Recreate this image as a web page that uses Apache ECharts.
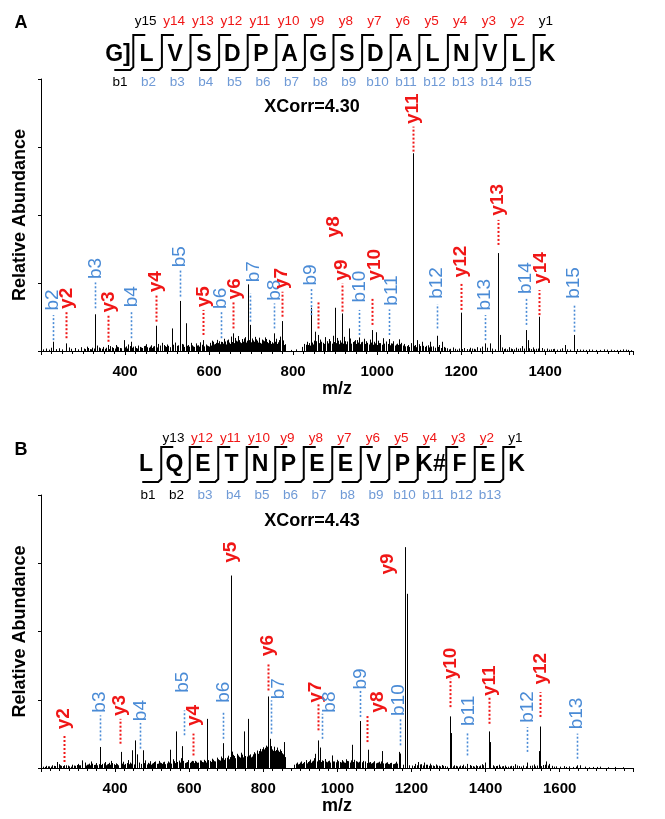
<!DOCTYPE html>
<html><head><meta charset="utf-8">
<script src="https://cdn.jsdelivr.net/npm/echarts@6/dist/echarts.min.js"></script>
<style>html,body{margin:0;padding:0;background:#fff}#c{width:665px;height:819px}</style>
</head><body><div id="c"></div>
<script>
// ================= Panel A data =================
const seqA = ['G]','L','V','S','D','P','A','G','S','D','A','L','N','V','L','K'];
const yHitA = [0,1,1,1,1,1,1,1,1,1,1,1,1,1,0];   // y15 ... y1 (left to right)
const bHitA = [0,1,1,1,1,1,1,1,1,1,1,1,1,1,1];   // b1 ... b15
const xcorrA = 'XCorr=4.30';
const xTicksA = [400,600,800,1000,1200,1400];
// main peaks [m/z, abundance]
const peaksA = [[229.1,3.4],[260.2,2.8],[328.2,13.5],[359.3,2.2],[396.4,4.0],[415.2,3.4],[473.3,9.3],[511.5,8.3],[530.2,18.4],[544.8,10.2],[586.4,4.0],[627.3,3.4],[652.6,5.3],[657.4,6.5],[693.7,24.5],[698.3,9.6],[755.3,6.5],[772.5,11.0],[842.4,15.9],[852.3,7.1],[859.5,5.9],[899.9,15.9],[916.5,13.8],[933.9,8.3],[947.5,4.0],[957.4,5.0],[987.5,7.7],[996.7,6.9],[1014.8,4.7],[1028.5,4.4],[1052.8,4.3],[1084.6,72.7],[1095.6,4.0],[1106,3.4],[1125.8,3.4],[1141.5,5.6],[1153.6,3.4],[1199.6,14.1],[1255.6,2.8],[1268.4,2.8],[1286.7,36.0],[1292.2,5.9],[1354.7,7.7],[1358,4.0],[1385.7,12.6],[1447.2,2.2],[1467.8,5.9]];
// low-level background peaks [m/z, abundance]
const noiseA = [[205,0.6],[212,0.9],[218,0.5],[224,1.2],[236,0.7],[243,1.0],[250,0.6],[266,1.3],[272,0.8],[281,1.1],[288,0.6],[295,1.4],
[302,0.9],[309,1.6],[316,0.7],[322,1.2],[334,2.0],[340,1.0],[347,1.5],[352,0.8],[365,1.8],[371,1.1],[378,2.2],[384,1.4],[390,1.0],[402,1.7],[408,2.4],[420,1.6],[426,1.1],[432,2.0],[438,1.3],[444,1.8],[450,2.5],[456,1.2],[462,2.1],[467,1.6],[478,2.6],
[305,0.7],[312,1.1],[319,0.6],[326,0.9],[337,1.3],[344,0.8],[355,1.2],[362,0.7],[368,1.4],[375,0.9],[381,1.6],[387,1.1],[399,1.3],[405,0.9],[411,1.8],[417,1.2],[423,1.7],[429,0.9],[435,1.5],[441,1.1],[447,1.9],[453,1.4],[459,1.6],[464,1.1],[470,1.8],[475,1.3],
[484,2.0],[489,3.0],[495,1.8],[500,2.4],[518,3.1],[523,1.9],[535,2.6],[550,2.2],[556,3.0],[562,1.7],[568,2.8],[574,2.1],[579,3.2],[592,2.4],[597,1.8],
[487,1.6],[492,2.2],[498,1.5],[503,1.9],[508,1.4],[514,2.3],[520,1.7],[527,2.1],[532,1.6],[538,2.4],[541,1.5],[547,1.9],[553,1.6],[559,2.1],[565,1.5],[571,2.0],[577,1.6],[583,2.3],[589,1.7],[594,2.0],[599,1.6],
[602,3.0],[606,2.2],[610,3.4],[614,2.6],[618,4.1],[622,2.9],[631,3.3],[635,4.5],[639,2.8],[643,3.9],[648,3.1],[662,4.8],[666,3.5],[670,5.5],[674,3.2],[678,4.4],[682,3.6],[686,5.1],[702,4.6],[706,3.4],[710,5.2],[714,3.8],[718,4.9],[722,3.0],[726,4.2],[730,3.6],[734,5.0],[738,3.3],[742,4.1],[746,3.7],[760,4.5],[764,3.2],[768,5.3],[776,3.9],[780,2.5],
[604,2.0],[608,3.8],[612,2.4],[616,3.0],[620,2.2],[624,3.6],[627,2.5],[629,2.0],[633,2.7],[637,3.5],[641,2.4],[645,4.2],[650,2.6],[654,3.3],[659,2.9],[664,3.8],[668,2.7],[672,4.0],[676,2.9],[680,3.4],[684,4.6],[688,3.1],[690,3.8],[696,4.0],[700,3.2],[704,3.9],[708,2.8],[712,4.3],[716,3.1],[720,3.6],[724,2.7],[728,3.9],[732,3.0],[736,4.4],[740,2.9],[744,3.5],[748,2.6],[750,3.2],[752,2.8],[757,3.4],[762,2.6],[766,4.0],[770,3.0],[774,3.6],[778,2.2],
[795,0.4],[808,0.6],
[822,1.5],[827,2.6],[832,3.4],[836,2.2],[850,3.8],[865,4.2],[870,3.0],[875,5.1],[880,3.6],[885,4.4],[889,3.1],[895,5.6],[904,4.8],[912,3.9],[921,5.2],[929,3.5],[935,4.6],[942,3.3],[952,4.0],[962,3.2],[968,4.5],[973,3.6],[983,4.2],[992,3.4],[1001,3.8],[1008,2.9],[1022,3.5],[1033,2.8],[1038,3.6],[1047,2.7],[1058,3.0],
[825,1.9],[830,2.3],[834,1.8],[838,2.9],[840,2.0],[845,3.1],[848,2.4],[855,3.6],[862,2.9],[867,3.4],[873,2.6],[877,3.9],[882,2.8],[887,3.6],[892,2.7],[897,3.3],[902,2.9],[907,3.8],[910,2.5],[915,3.1],[918,2.7],[924,3.6],[927,2.5],[932,3.3],[938,2.7],[945,3.6],[949,2.6],[955,3.1],[960,2.5],[965,3.4],[970,2.6],[976,3.0],[980,2.4],[986,3.1],[989,2.3],[994,2.8],[999,2.2],[1004,2.9],[1011,2.3],[1017,2.7],[1020,2.0],[1025,2.6],[1031,2.1],[1036,2.7],[1042,2.0],[1045,2.4],[1050,2.2],[1055,2.5],[1061,2.0],
[1065,2.6],[1070,1.8],[1080,2.9],[1090,2.2],[1100,2.5],[1110,1.9],[1120,2.1],[1133,1.7],[1148,2.2],[1158,1.5],
[1067,1.7],[1074,2.2],[1077,1.5],[1087,1.9],[1093,1.4],[1103,1.8],[1113,1.5],[1117,1.9],[1123,1.3],[1129,1.6],[1137,1.2],[1144,1.5],[1151,1.1],[1161,1.2],
[1166,1.0],[1174,0.8],[1181,1.3],[1194,0.9],[1206,1.1],[1213,0.7],[1222,1.2],[1230,0.8],[1238,1.4],[1250,1.6],[1262,1.2],[1297,1.3],[1305,0.9],[1314,1.4],[1322,0.7],[1330,1.2],[1345,1.8],[1362,1.0],[1370,1.3],[1378,0.8],[1393,1.1],
[1170,0.6],[1186,0.8],[1190,0.5],[1202,0.7],[1218,0.6],[1226,0.9],[1234,0.6],[1244,1.0],[1274,0.9],[1280,0.6],[1301,0.7],[1310,0.6],[1318,0.9],[1326,0.6],[1336,0.8],[1341,1.0],[1350,0.9],[1366,0.7],[1374,0.6],[1382,0.9],[1398,0.6],
[1404,0.9],[1414,0.6],[1422,0.8],[1440,1.0],[1460,0.5],[1475,0.7],[1490,0.5],[1505,0.6],[1520,0.4],[1540,0.6],[1556,0.5],[1570,0.4],[1585,0.6],[1598,0.4],
[1409,0.5],[1418,0.7],[1428,0.5],[1435,0.6],[1452,0.6],[1468,0.4],[1482,0.5],[1497,0.4],[1512,0.5],[1530,0.4],[1548,0.5],[1563,0.3],[1578,0.4],[1592,0.5],[1604,0.3]];
// annotations: name, [ion m/z, dotted-line bottom, dotted-line top, label m/z, label bottom]
const annNamesA = ['b2','y2','b3','y3','b4','y4','b5','y5','b6','y6','b7','b8','y7','b9','y8','y9','b10','y10','b11','y11','b12','y12','b13','y13','b14','y14','b15'];
const annValsA = [[229.1,4.0,13.2,229.1,14.5],[260.2,4.7,14.5,260.2,15.1],[328.2,15.7,25.2,330,26.1],[359.3,3.4,13.2,361,13.8],[415.2,4.7,14.5,415.2,15.7],[473.3,10.8,20.6,474,21.2],[530.2,20.0,29.8,530.2,30.4],[586.4,5.9,15.1,586.4,15.7],[627.3,4.7,14.5,627.3,15.1],[657.4,8.3,18.1,660,18.6],[698.3,10.8,21.2,705.6,24.9],[755.3,8.3,17.5,755.3,18.1],[772.5,12.6,21.8,774,22.4],[842.4,13.2,23.0,842.4,23.7],[859.5,8.3,18.1,895.8,41.4],[916.5,14.5,24.9,916.5,25.5],[957.4,5.9,15.1,958,17.5],[987.5,9.6,19.4,995,25.5],[1028.5,5.9,15.3,1034,16.3],[1084.6,73.3,82.5,1084.6,83.1],[1141.5,8.3,17.2,1141.5,18.8],[1199.6,15.1,24.9,1199.6,26.7],[1255.6,4.0,13.2,1255.6,14.5],[1286.7,39.0,48.2,1286.7,49.4],[1354.7,9.6,19.4,1354.7,20.6],[1385.7,13.2,22.4,1389,24.3],[1467.8,7.1,16.9,1467.8,18.8]];

// ================= Panel B data =================
const seqB = ['L','Q','E','T','N','P','E','E','V','P','K#','F','E','K'];
const yHitB = [0,1,1,1,1,1,1,1,1,1,1,1,0];   // y13 ... y1
const bHitB = [0,0,1,1,1,1,1,1,1,1,1,1,1];   // b1 ... b13
const xcorrB = 'XCorr=4.43';
const xTicksB = [400,600,800,1000,1200,1400,1600];
const peaksB = [[242,2.2],[262,1.0],[311.6,2.8],[359,7.7],[415,5.9],[446.5,6.5],[453.6,10.1],[459,5.0],[475,6.5],[548,6.7],[565,13.4],[581,8.0],[610,2.5],[648.7,18.0],[692,9.1],[711.6,70.5],[715,6.0],[747.6,13.4],[758.4,18.0],[812,26.2],[817.6,10.7],[821,8.0],[855,9.5],[940,5.2],[947,10.1],[952,7.5],[985.8,4.6],[1039.8,8.5],[1062,17.2],[1082,6.7],[1120.8,6.2],[1165.7,5.9],[1170,5.3],[1183.6,80.9],[1188,63.8],[1303,18.9],[1307,12.8],[1350,1.5],[1408,13.4],[1413,9.5],[1512,2.0],[1543,6.2],[1546,15.2],[1647,1.0]];
const noiseB = [[206,0.5],[214,0.8],[222,0.6],[230,1.0],[238,0.7],[248,1.4],[255,0.8],[268,1.0],[275,0.6],[284,1.2],[292,0.8],
[210,0.4],[218,0.6],[226,0.5],[234,0.8],[244,0.6],[252,1.0],[260,0.7],[272,0.9],[280,0.5],[288,0.9],[296,1.1],
[300,1.5],[306,1.0],[318,2.0],[324,1.2],[330,1.6],[336,2.4],[342,1.1],[348,1.8],[366,1.5],[372,2.2],[378,1.3],[384,1.9],[390,2.6],[396,1.4],[402,1.7],[422,2.3],[428,1.5],[434,2.9],[440,2.0],[460,3.4],[482,2.8],[488,1.9],[494,2.5],[500,1.6],
[303,1.0],[312,1.4],[321,0.9],[327,1.3],[333,1.0],[339,1.6],[345,1.2],[352,1.0],[356,1.4],[362,1.1],[369,1.7],[375,1.0],[381,1.5],[387,1.2],[393,1.8],[399,1.1],[405,1.4],[409,1.0],[418,1.6],[425,1.2],[431,1.8],[437,1.4],[443,1.6],[450,1.3],[464,2.0],[469,1.5],[479,1.8],[485,1.3],[491,1.6],[497,1.2],
[506,2.2],[512,1.5],[518,2.6],[524,1.8],[530,2.1],[536,1.4],[542,2.4],[555,3.2],[572,2.7],[578,3.6],[592,2.0],[598,2.9],[604,2.3],[616,2.6],[622,1.9],[628,2.8],[634,2.2],[640,3.0],[656,2.6],[662,3.4],[668,2.5],[674,3.8],[680,2.9],[686,4.2],[698,3.6],[704,4.5],
[503,1.8],[509,2.4],[515,1.6],[521,2.0],[527,1.5],[533,2.3],[539,1.7],[545,2.0],[551,1.6],[558,2.5],[562,1.8],[568,2.2],[575,2.0],[584,2.6],[588,1.8],[595,2.2],[601,1.9],[607,2.6],[613,1.8],[619,2.3],[625,2.0],[631,2.7],[637,2.1],[643,2.6],[646,2.0],[652,2.9],[659,2.2],[665,3.0],[671,2.4],[677,3.2],[683,2.7],[689,3.6],[695,3.0],[701,3.8],[707,3.2],[710,4.0],[713,3.4],
[718,4.8],[722,3.9],[728,5.2],[734,4.1],[740,5.6],[752,4.4],[764,5.0],[770,4.2],[776,5.8],[782,6.4],[786,5.2],[790,7.0],[794,6.1],[798,7.6],[802,6.8],[806,8.2],[822,7.2],[826,6.3],[830,7.8],[834,6.6],[838,7.1],[842,5.9],[846,6.8],[850,5.4],[858,4.0],
[720,4.4],[725,3.6],[731,4.6],[737,3.8],[743,4.9],[746,3.9],[749,5.1],[755,4.2],[761,4.6],[767,3.9],[773,5.0],[779,5.3],[784,5.9],[788,6.2],[792,5.8],[796,6.9],[800,6.3],[804,7.4],[808,6.9],[810,7.8],[814,6.5],[819,7.0],[824,6.8],[828,7.4],[832,6.2],[836,7.5],[840,6.4],[844,6.0],[848,6.2],[852,5.0],[855,4.6],
[884,1.2],[890,2.0],[896,1.5],[902,2.4],[908,1.8],[914,2.9],[920,2.2],[926,3.1],[932,2.4],[938,3.6],[958,2.8],[966,3.3],[972,2.1],[978,2.7],[992,2.4],[998,3.0],
[887,1.6],[893,1.3],[899,2.0],[905,1.5],[911,2.2],[917,1.7],[923,2.5],[929,1.9],[935,2.7],[944,2.4],[950,2.9],[955,2.2],[961,2.6],[969,2.3],[975,2.5],[981,2.0],[987,2.4],[995,2.1],
[1006,2.2],[1012,2.9],[1018,2.0],[1024,3.2],[1030,2.5],[1046,3.0],[1052,2.3],[1070,2.6],[1088,2.2],[1094,1.8],[1100,2.5],[1106,1.9],[1112,2.3],[1128,1.6],[1134,2.1],[1140,1.4],[1146,1.9],[1152,1.5],[1158,2.3],[1176,1.2],[1194,1.0],
[1001,2.5],[1009,2.0],[1015,2.4],[1021,1.9],[1027,2.6],[1033,2.0],[1036,2.8],[1043,2.2],[1049,2.5],[1055,2.0],[1058,2.3],[1066,2.1],[1075,2.4],[1079,1.8],[1085,2.0],[1091,1.6],[1097,2.1],[1103,1.7],[1109,2.0],[1115,1.6],[1118,2.4],[1124,1.7],[1131,1.9],[1137,1.5],[1143,1.8],[1149,1.4],[1155,1.7],[1162,1.6],[1168,2.0],
[1202,0.9],[1210,1.5],[1218,2.2],[1226,1.4],[1234,2.0],[1242,1.2],[1250,1.6],[1258,0.9],[1266,1.3],[1274,0.8],[1282,1.1],[1290,0.7],[1316,1.0],[1324,0.6],[1332,0.9],[1340,1.2],[1358,1.1],[1366,0.7],[1374,1.0],[1382,0.6],[1390,1.4],[1398,2.0],[1420,1.0],[1428,0.7],[1436,1.2],[1444,0.6],[1452,0.9],[1460,0.5],[1470,0.8],[1480,1.4],[1490,0.7],[1500,0.9],[1520,0.8],[1530,1.3],[1538,0.9],[1556,1.1],[1564,2.4],[1572,1.5],[1580,0.8],[1590,0.6],[1600,0.5],[1612,0.7],[1624,0.6],[1636,0.4],[1655,1.0],[1668,0.5],[1690,0.4],[1710,0.5],[1730,0.3],[1750,0.4],[1770,0.3],
[1206,0.7],[1214,1.0],[1222,1.3],[1230,0.9],[1238,1.2],[1246,0.8],[1254,1.0],[1262,0.7],[1270,0.9],[1278,0.6],[1286,0.8],[1296,0.5],[1312,0.6],[1320,0.8],[1328,0.5],[1336,0.7],[1345,0.6],[1362,0.8],[1370,0.5],[1378,0.7],[1386,0.9],[1394,1.0],[1424,0.6],[1432,0.8],[1440,0.5],[1448,0.7],[1456,0.4],[1465,0.6],[1475,0.7],[1485,0.9],[1495,0.5],[1510,0.6],[1525,0.9],[1534,0.6],[1550,0.7],[1560,1.2],[1568,0.9],[1585,0.5],[1618,0.4],[1645,0.5],[1680,0.3],[1700,0.4]];
const annNamesB = ['y2','b3','y3','b4','b5','y4','b6','y5','y6','b7','y7','b8','b9','y8','b10','y9','y10','b11','y11','b12','y12','b13'];
const annValsB = [[262,2.2,12.0,262,13.8],[359,10.1,19.3,359,19.9],[413,8.9,18.0,413,18.7],[467,7.1,16.5,469,16.8],[585.6,12.0,21.1,583,27.2],[610,4.6,12.6,612,15.0],[692,10.7,20.5,692,23.5],[711.6,0,0,711.6,74.8],[812,28.4,38.2,812,40.6],[821,12.6,24.8,842,24.8],[947,13.8,23.5,943,23.5],[959,10.7,19.9,980,19.9],[1062,18.7,28.4,1062,28.4],[1080,9.5,19.3,1108,19.9],[1170,8.3,18.0,1166,18.7],[1136,0,0,1136,70.5],[1303,22.3,32.7,1305,32.1],[1350,4.6,13.2,1354,15.0],[1408,16.2,26.0,1411,26.0],[1512,5.9,15.0,1513,16.2],[1546,18.7,27.8,1548,30.2],[1647,3.4,12.6,1645,13.8]];

// ================= rendering =================
const FONT = '"Liberation Sans", Arial, sans-serif';
const RED = '#f01616', BLUE = '#4a8bd6', SEQBLUE = '#6f9ad6';
const chart = echarts.init(document.getElementById('c'), null, {renderer:'canvas'});

function stickSeries(data, idx){
  return {type:'custom', xAxisIndex:idx, yAxisIndex:idx, data:data, clip:false, silent:true,
    encode:{x:0,y:1},
    renderItem:(p, api)=>{
      const a = api.coord([api.value(0), 0]);
      const b = api.coord([api.value(0), api.value(1)]);
      const x = Math.round(a[0]) + 0.5;
      return {type:'line', shape:{x1:x,y1:a[1],x2:x,y2:b[1]}, style:{stroke:'#000', lineWidth:1}};
    }};
}
function annSeries(names, vals, idx){
  return {type:'custom', xAxisIndex:idx, yAxisIndex:idx, data:vals, clip:false, silent:true,
    encode:{x:0,y:2},
    renderItem:(p, api)=>{
      const name = names[p.dataIndex];
      const isY = name[0]==='y';
      const col = isY ? RED : BLUE;
      const ch = [];
      const lb = api.value(1), lt = api.value(2);
      if (lt > lb) {
        const a = api.coord([api.value(0), lb]);
        const b = api.coord([api.value(0), lt]);
        const x = Math.round(a[0]) + 0.5;
        ch.push({type:'line', shape:{x1:x,y1:a[1],x2:x,y2:b[1]},
          style:{stroke:col, lineWidth:isY?2:1.6, lineDash:[2,2]}});
      }
      const c = api.coord([api.value(3), api.value(4)]);
      ch.push({type:'text', x:c[0], y:c[1]-1, rotation:Math.PI/2,
        style:{text:name, fill:col, font:(isY?'bold ':'')+'19px '+FONT, align:'left', verticalAlign:'middle'}});
      return {type:'group', children:ch};
    }};
}

function seqGraphics(seq, yHit, bHit, cfg){
  const g = [];
  const n = seq.length;
  const xs = seq.map((s,i)=>cfg.x0 + i*cfg.step);
  seq.forEach((s,i)=>{
    g.push({type:'text', x:xs[i], y:cfg.yl, style:{text:s, font:'bold 23px '+FONT, fill:'#000', align:'center', verticalAlign:'middle'}});
  });
  for (let k=0;k<n-1;k++){
    const xm = (xs[k]+xs[k+1])/2 + 1;
    g.push({type:'polyline', shape:{points:[[xm-19,cfg.yb],[xm-3,cfg.yb],[xm,cfg.yb-3],[xm,cfg.yt],[xm+12,cfg.yt]]},
      style:{stroke:'#000', lineWidth:2, fill:null}});
    const yi = n-1-k;
    g.push({type:'text', x:xs[k+1]-1, y:cfg.yy, style:{text:'y'+yi, font:'13.5px '+FONT, fill:yHit[k]?RED:'#000', align:'center', verticalAlign:'middle'}});
    g.push({type:'text', x:xs[k]+2, y:cfg.by, style:{text:'b'+(k+1), font:'13.5px '+FONT, fill:bHit[k]?SEQBLUE:'#000', align:'center', verticalAlign:'middle'}});
  }
  return g;
}

function xAxisCfg(idx, min, max, ticks){
  return {type:'value', gridIndex:idx, min:min, max:max, interval:200,
    axisLine:{lineStyle:{color:'#000', width:1}},
    axisTick:{show:true, length:4, lineStyle:{color:'#000'}},
    minorTick:{show:true, splitNumber:8, length:3, lineStyle:{color:'#000'}},
    splitLine:{show:false},
    axisLabel:{margin:13, color:'#000', fontFamily:FONT, fontWeight:'bold', fontSize:15,
      formatter:(v)=> ticks.indexOf(v)>=0 ? String(v) : ''},
    name:'m/z', nameLocation:'middle', nameGap:29,
    nameTextStyle:{color:'#000', fontFamily:FONT, fontWeight:'bold', fontSize:18}};
}
function yAxisCfg(idx){
  return {type:'value', gridIndex:idx, min:0, max:100, interval:25,
    axisLine:{show:true, lineStyle:{color:'#000', width:1}},
    axisTick:{show:true, length:3, lineStyle:{color:'#000'}},
    axisLabel:{show:false}, splitLine:{show:false},
    name:'Relative Abundance', nameLocation:'middle', nameGap:12,
    nameTextStyle:{color:'#000', fontFamily:FONT, fontWeight:'bold', fontSize:18}};
}

const graphics = []
  .concat(seqGraphics(seqA, yHitA, bHitA, {x0:118, step:28.6, yl:55, yt:35, yb:70, yy:21, by:82}))
  .concat(seqGraphics(seqB, yHitB, bHitB, {x0:146, step:28.5, yl:465, yt:447, yb:482, yy:438, by:495}))
  .concat([
    {type:'text', x:21, y:23, style:{text:'A', font:'bold 18px '+FONT, fill:'#000', align:'center', verticalAlign:'middle'}},
    {type:'text', x:21, y:450, style:{text:'B', font:'bold 18px '+FONT, fill:'#000', align:'center', verticalAlign:'middle'}},
    {type:'text', x:312, y:107, style:{text:xcorrA, font:'bold 18px '+FONT, fill:'#000', align:'center', verticalAlign:'middle'}},
    {type:'text', x:312, y:521, style:{text:xcorrB, font:'bold 18px '+FONT, fill:'#000', align:'center', verticalAlign:'middle'}}
  ]);

chart.setOption({
  animation:false,
  backgroundColor:'#fff',
  grid:[{left:41, right:32, top:79, height:272},{left:41, right:32, top:495, height:273}],
  xAxis:[xAxisCfg(0,200,1609,xTicksA), xAxisCfg(1,200,1798,xTicksB)],
  yAxis:[yAxisCfg(0), yAxisCfg(1)],
  series:[stickSeries(noiseA.concat(peaksA),0), annSeries(annNamesA, annValsA, 0),
          stickSeries(noiseB.concat(peaksB),1), annSeries(annNamesB, annValsB, 1)],
  graphic:graphics
});
</script></body></html>
